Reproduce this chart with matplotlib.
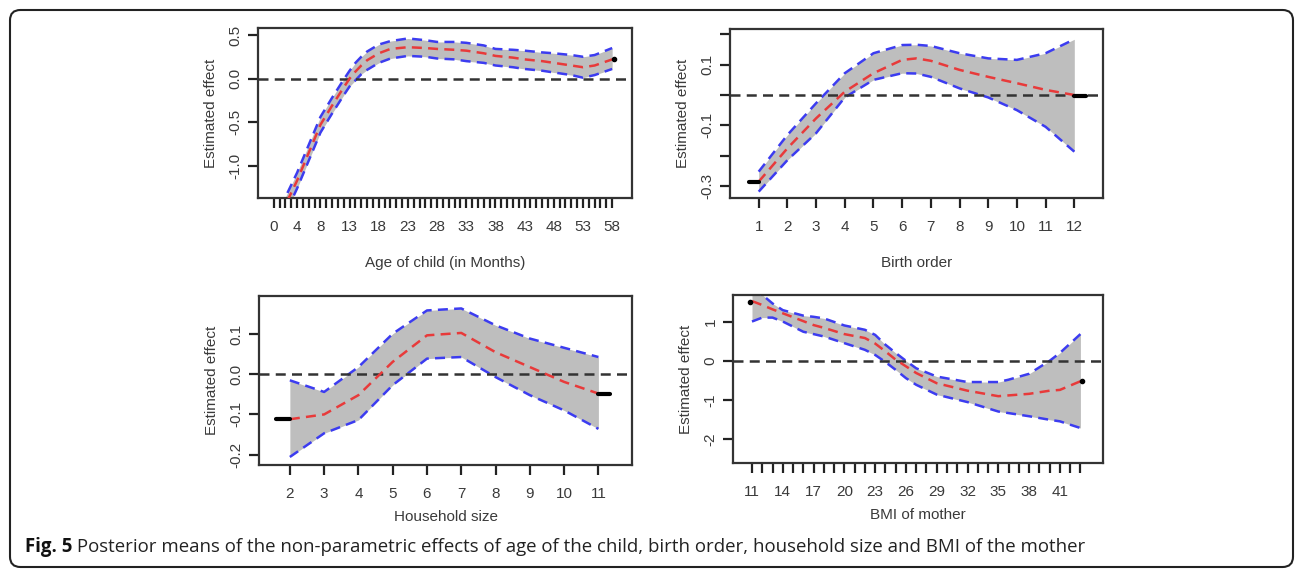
import matplotlib
matplotlib.use("Agg")
import matplotlib.pyplot as plt
from matplotlib.patches import FancyBboxPatch
import numpy as np

W, H = 1295, 571

# ---------------- data ----------------
# Panel 1: age of child (months)
age_x     = [0, 2, 4, 6, 8, 10, 12, 13, 14, 15, 16, 17, 18, 20, 23, 26, 28, 31, 33, 36, 38, 41, 43, 46, 48, 51, 53, 55, 58]
age_mean  = [-1.75, -1.45, -1.17, -0.85, -0.53, -0.31, -0.10, 0.0, 0.08, 0.15, 0.21, 0.25, 0.29, 0.34, 0.36, 0.35, 0.34, 0.33, 0.32, 0.29, 0.26, 0.24, 0.22, 0.20, 0.18, 0.15, 0.13, 0.15, 0.22]
age_upper = [-1.65, -1.36, -1.08, -0.76, -0.44, -0.22, -0.01, 0.09, 0.18, 0.25, 0.31, 0.35, 0.39, 0.43, 0.46, 0.44, 0.42, 0.42, 0.41, 0.38, 0.34, 0.33, 0.32, 0.30, 0.29, 0.27, 0.25, 0.27, 0.35]
age_lower = [-1.85, -1.55, -1.26, -0.94, -0.62, -0.40, -0.19, -0.09, -0.02, 0.05, 0.10, 0.14, 0.18, 0.23, 0.26, 0.25, 0.23, 0.22, 0.20, 0.18, 0.15, 0.13, 0.11, 0.09, 0.07, 0.04, 0.01, 0.04, 0.11]
age_end   = [58.3, 0.23]
age_ticks = list(range(0, 59))
age_labels = [0, 4, 8, 13, 18, 23, 28, 33, 38, 43, 48, 53, 58]

# Panel 2: birth order
bo_x     = [1, 2, 3, 4, 5, 6, 6.5, 7, 8, 9, 10, 11, 12]
bo_mean  = [-0.286, -0.176, -0.077, 0.011, 0.072, 0.116, 0.121, 0.113, 0.083, 0.060, 0.039, 0.017, 0.0]
bo_upper = [-0.253, -0.132, -0.027, 0.072, 0.138, 0.165, 0.166, 0.162, 0.138, 0.121, 0.116, 0.138, 0.184]
bo_lower = [-0.319, -0.215, -0.126, -0.008, 0.050, 0.072, 0.071, 0.060, 0.022, -0.008, -0.050, -0.105, -0.187]
bo_end_left  = [0.65, 1.0, -0.286]
bo_end_right = [12.0, 12.4, -0.003]
bo_ticks = list(range(1, 13))
bo_yticks = [-0.3, -0.2, -0.1, 0.0, 0.1, 0.2]
bo_ylabels = ["-0.3", "", "-0.1", "", "0.1", ""]

# Panel 3: household size
hh_x     = [2, 3, 4, 5, 6, 7, 8, 9, 10, 11]
hh_mean  = [-0.112, -0.100, -0.052, 0.031, 0.097, 0.103, 0.055, 0.018, -0.019, -0.048]
hh_upper = [-0.015, -0.044, 0.018, 0.101, 0.159, 0.164, 0.122, 0.089, 0.066, 0.043]
hh_lower = [-0.206, -0.147, -0.114, -0.027, 0.039, 0.043, -0.007, -0.052, -0.090, -0.136]
hh_end_left  = [1.6, 2.0, -0.112]
hh_end_right = [11.0, 11.35, -0.048]
hh_ticks = list(range(2, 12))

# Panel 4: BMI of mother
bmi_x     = [11, 12, 13, 14, 16, 17, 18, 20, 22, 23, 24, 25, 26, 27, 29, 32, 35, 36, 38, 40, 41, 43]
bmi_mean  = [1.52, 1.42, 1.31, 1.21, 1.01, 0.91, 0.84, 0.68, 0.58, 0.44, 0.24, 0.03, -0.14, -0.31, -0.57, -0.76, -0.90, -0.88, -0.84, -0.76, -0.74, -0.52]
bmi_upper = [1.80, 1.68, 1.46, 1.29, 1.15, 1.12, 1.08, 0.90, 0.79, 0.66, 0.41, 0.20, 0.0, -0.19, -0.40, -0.54, -0.54, -0.48, -0.33, 0.0, 0.20, 0.68]
bmi_lower = [1.00, 1.10, 1.10, 1.00, 0.74, 0.68, 0.62, 0.45, 0.28, 0.15, -0.03, -0.23, -0.44, -0.61, -0.86, -1.05, -1.29, -1.33, -1.41, -1.50, -1.54, -1.71]
bmi_end_left  = [10.8, 1.50]
bmi_end_right = [43.2, -0.52]
bmi_ticks = list(range(11, 44))
bmi_labels = [11, 14, 17, 20, 23, 26, 29, 32, 35, 38, 41]

caption_bold = "Fig. 5"
caption_text = " Posterior means of the non-parametric effects of age of the child, birth order, household size and BMI of the mother"

# ---------------- style ----------------
plt.rcParams['font.family'] = ['Liberation Sans', 'DejaVu Sans']
TXT = '#3a3a3a'
BLUE = '#3c3cf0'
RED = '#e83a3a'
GRAY = '#bebebe'
TICKFS = 11
LABFS = 11

fig = plt.figure(figsize=(W / 100, H / 100), dpi=100)


def make_ax(l, r, t, b):
    return fig.add_axes([l / W, 1 - b / H, (r - l) / W, (b - t) / H])


def style(ax, xlim, ylim, xticks, xlabels, yticks, ylabels, xlabel, xlabpad):
    ax.set_xlim(*xlim)
    ax.set_ylim(*ylim)
    ax.set_xticks(xticks)
    ax.set_xticklabels(xlabels)
    ax.set_yticks(yticks)
    ax.set_yticklabels(ylabels, rotation=90, va='center')
    ax.tick_params(axis='both', direction='out', length=7, width=1.6,
                   colors='#222222', labelcolor=TXT, labelsize=TICKFS, pad=4)
    ax.tick_params(axis='x', pad=9)
    for s in ax.spines.values():
        s.set_linewidth(1.6)
        s.set_color('#333333')
    ax.set_xlabel(xlabel, fontsize=LABFS, color=TXT, labelpad=xlabpad)
    ax.set_ylabel("Estimated effect", fontsize=LABFS, color=TXT, labelpad=8)
    ax.axhline(0, color='#333333', lw=1.8, ls=(0, (4, 2.5)), zorder=4)


def curves(ax, x, m, u, lo):
    ax.fill_between(x, lo, u, color=GRAY, lw=0, zorder=1)
    ax.plot(x, u, color=BLUE, lw=1.8, ls=(0, (4, 2.5)), zorder=3)
    ax.plot(x, lo, color=BLUE, lw=1.8, ls=(0, (4, 2.5)), zorder=3)
    ax.plot(x, m, color=RED, lw=1.8, ls=(0, (4, 2.5)), zorder=5)


def lbl(ticks, shown):
    return [str(t) if t in shown else "" for t in ticks]


# Panel 1
ax1 = make_ax(258, 632, 28, 198)
curves(ax1, age_x, age_mean, age_upper, age_lower)
ax1.plot([age_end[0]], [age_end[1]], 'o', color='black', ms=3, zorder=6)
style(ax1, (-2.7, 61.4), (-1.37, 0.58), age_ticks, lbl(age_ticks, age_labels),
      [-1.0, -0.5, 0.0, 0.5], ["-1.0", "-0.5", "0.0", "0.5"],
      "Age of child (in Months)", 16)

# Panel 2
ax2 = make_ax(730, 1103, 29, 198)
curves(ax2, bo_x, bo_mean, bo_upper, bo_lower)
ax2.plot(bo_end_left[:2], [bo_end_left[2]] * 2, color='black', lw=3, solid_capstyle='round', zorder=6)
ax2.plot(bo_end_right[:2], [bo_end_right[2]] * 2, color='black', lw=3, solid_capstyle='round', zorder=6)
style(ax2, (0.0, 13.0), (-0.34, 0.218), bo_ticks, [str(t) for t in bo_ticks],
      bo_yticks, bo_ylabels, "Birth order", 16)

# Panel 3
ax3 = make_ax(259, 632, 296, 465)
curves(ax3, hh_x, hh_mean, hh_upper, hh_lower)
ax3.plot(hh_end_left[:2], [hh_end_left[2]] * 2, color='black', lw=3, solid_capstyle='round', zorder=6)
ax3.plot(hh_end_right[:2], [hh_end_right[2]] * 2, color='black', lw=3, solid_capstyle='round', zorder=6)
style(ax3, (1.1, 11.98), (-0.226, 0.195), hh_ticks, [str(t) for t in hh_ticks],
      [-0.2, -0.1, 0.0, 0.1], ["-0.2", "-0.1", "0.0", "0.1"], "Household size", 6)

# Panel 4
ax4 = make_ax(733, 1103, 295, 463)
curves(ax4, bmi_x, bmi_mean, bmi_upper, bmi_lower)
ax4.plot([bmi_end_left[0]], [bmi_end_left[1]], 'o', color='black', ms=3, zorder=6)
ax4.plot([bmi_end_right[0]], [bmi_end_right[1]], 'o', color='black', ms=3, zorder=6)
style(ax4, (9.15, 45.2), (-2.6, 1.675), bmi_ticks, lbl(bmi_ticks, bmi_labels),
      [-2, -1, 0, 1], ["-2", "-1", "0", "1"], "BMI of mother", 6)

# Frame
frame = FancyBboxPatch((10 / W, 4 / H), 1283 / W, 557 / H,
                       boxstyle="round,pad=0,rounding_size=0.008",
                       transform=fig.transFigure, fill=False,
                       ec='#222222', lw=1.5, mutation_aspect=W / H)
fig.patches.append(frame)

# Caption
CAPFS = 13.4
t1 = fig.text(25 / W, 1 - 552 / H, caption_bold, fontsize=CAPFS, fontweight='bold',
              family=['Open Sans', 'DejaVu Sans'], color='#111111', va='baseline')
fig.canvas.draw()
bb = t1.get_window_extent(fig.canvas.get_renderer())
fig.text(bb.x1 / W, 1 - 552 / H, caption_text, fontsize=CAPFS,
         family=['Open Sans', 'DejaVu Sans'], color='#222222', va='baseline')

fig.savefig("out.png", dpi=100)
